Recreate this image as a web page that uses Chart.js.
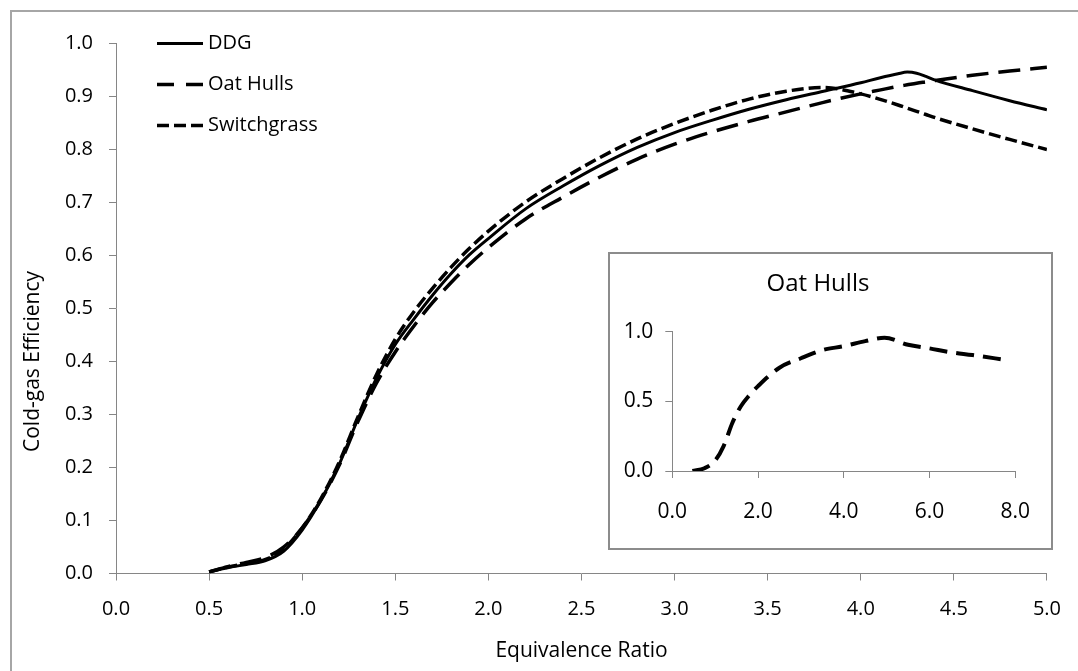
<!DOCTYPE html>
<html>
<head>
<meta charset="utf-8">
<title>Cold-gas efficiency vs equivalence ratio</title>
<script src="https://cdn.jsdelivr.net/npm/chart.js@4/dist/chart.umd.min.js"></script>
<style>
  html, body { margin: 0; padding: 0; background: #fff; }
  #stage { position: relative; width: 1078px; height: 671px; overflow: hidden; background: #fff; }
  #frame {
    position: absolute; left: 10px; top: 10px; right: -10px; bottom: -10px;
    border-left: 2px solid #a6a6a6; border-top: 2px solid #a6a6a6;
  }
  #main { position: absolute; left: 0; top: 0; }
  #insetBox {
    position: absolute; left: 608px; top: 252px; width: 445px; height: 298px;
    box-sizing: border-box; border: 2px solid #8c8c8c; background: #fff;
  }
  #inset { display: block; }
</style>
</head>
<body>
<div id="stage">
  <div id="frame"></div>
  <canvas id="main" width="1078" height="671"></canvas>
  <div id="insetBox"><canvas id="inset" width="441" height="294"></canvas></div>
</div>
<script>
// equivalence ratio grid shared by the three fuels
const PHI = [0.5, 0.6, 0.7, 0.8, 0.9, 1.0, 1.1, 1.2, 1.3, 1.4, 1.5, 1.6, 1.7, 1.8, 1.9, 2.0,
  2.2, 2.4, 2.6, 2.8, 3.0, 3.2, 3.4, 3.6, 3.8, 4.0, 4.1, 4.2, 4.25, 4.3, 4.35, 4.4, 4.6, 4.8, 5.0];

const DDG = [0.003, 0.011, 0.017, 0.024, 0.042, 0.082, 0.138, 0.207, 0.292, 0.369, 0.432, 0.480, 0.525, 0.566, 0.602, 0.632,
  0.688, 0.731, 0.770, 0.804, 0.832, 0.855, 0.876, 0.894, 0.910, 0.926, 0.935, 0.943, 0.946, 0.944, 0.938, 0.931, 0.911, 0.892, 0.875];

const OAT_HULLS = [0.003, 0.013, 0.021, 0.030, 0.050, 0.086, 0.138, 0.205, 0.287, 0.360, 0.418, 0.467, 0.511, 0.549, 0.584, 0.615,
  0.669, 0.710, 0.748, 0.782, 0.810, 0.833, 0.853, 0.871, 0.889, 0.905, 0.912, 0.919, 0.922, 0.925, 0.9275, 0.930, 0.940, 0.948, 0.955];

const SWITCHGRASS = [0.003, 0.012, 0.019, 0.026, 0.046, 0.086, 0.141, 0.211, 0.296, 0.376, 0.442, 0.494, 0.538, 0.578, 0.614, 0.646,
  0.701, 0.745, 0.785, 0.820, 0.849, 0.874, 0.895, 0.910, 0.917, 0.905, 0.895, 0.884, 0.878, 0.872, 0.866, 0.860, 0.839, 0.819, 0.800];

// inset: oat hulls over the wider range
const INSET_PHI = [0.47, 0.75, 1.0, 1.2, 1.4, 1.6, 1.8, 2.0, 2.5, 3.0, 3.5, 4.0, 4.5, 4.95, 5.5, 6.0, 6.5, 7.0, 7.8];
const INSET_OAT_HULLS = [0.0, 0.02, 0.075, 0.18, 0.345, 0.465, 0.545, 0.61, 0.742, 0.81, 0.868, 0.897, 0.933, 0.957, 0.907, 0.881, 0.853, 0.833, 0.797];

const AXIS_GREY = '#868686';
const FONT_FAMILY = "'Open Sans', sans-serif";

Chart.defaults.font.family = FONT_FAMILY;
Chart.defaults.color = '#000';

function toPoints(xs, ys) {
  return xs.map((x, i) => ({ x, y: ys[i] }));
}

function fixedLabel(value) {
  return Number(value).toFixed(1);
}

function axis(min, max, step, tickPadding, fontSize, extra) {
  return Object.assign({
    type: 'linear',
    min,
    max,
    grid: { drawOnChartArea: false, drawTicks: true, tickLength: 7, color: AXIS_GREY, lineWidth: 1 },
    border: { color: AXIS_GREY, width: 1 },
    ticks: {
      stepSize: step,
      padding: tickPadding,
      autoSkip: false,
      maxRotation: 0,
      font: { size: fontSize },
      callback: fixedLabel,
    },
  }, extra);
}

// legend drawn inside the plot, line samples keep each dataset's dash
const lineLegend = {
  id: 'lineLegend',
  afterDraw(chart) {
    const { ctx, chartArea } = chart;
    const sampleLeft = chartArea.left + 41;
    const sampleWidth = 46;

    ctx.save();
    ctx.font = `20px ${FONT_FAMILY}`;
    ctx.textBaseline = 'middle';
    ctx.fillStyle = '#000';

    chart.data.datasets.forEach((dataset, index) => {
      const y = chartArea.top + index * 41;
      ctx.beginPath();
      ctx.strokeStyle = dataset.borderColor;
      ctx.lineWidth = dataset.borderWidth;
      ctx.setLineDash(dataset.legendDash || []);
      ctx.moveTo(sampleLeft, y);
      ctx.lineTo(sampleLeft + sampleWidth, y);
      ctx.stroke();
      ctx.fillText(dataset.label, sampleLeft + sampleWidth + 5, y);
    });

    ctx.restore();
  },
};

// the value-axis title sits lower than the axis middle in the original
const yAxisTitle = {
  id: 'yAxisTitle',
  afterDraw(chart, args, opts) {
    const { ctx, scales } = chart;
    ctx.save();
    ctx.translate(opts.x, scales.y.getPixelForValue(opts.level));
    ctx.rotate(-Math.PI / 2);
    ctx.font = `${opts.size}px ${FONT_FAMILY}`;
    ctx.textAlign = 'center';
    ctx.textBaseline = 'middle';
    ctx.fillStyle = '#000';
    ctx.fillText(opts.text, 0, 0);
    ctx.restore();
  },
};

new Chart(document.getElementById('main'), {
  type: 'line',
  data: {
    datasets: [
      {
        label: 'DDG',
        data: toPoints(PHI, DDG),
        borderColor: '#000',
        borderWidth: 3,
        borderDash: [],
        legendDash: [],
      },
      {
        label: 'Oat Hulls',
        data: toPoints(PHI, OAT_HULLS),
        borderColor: '#000',
        borderWidth: 3.5,
        borderDash: [22, 10],
        legendDash: [17, 12],
      },
      {
        label: 'Switchgrass',
        data: toPoints(PHI, SWITCHGRASS),
        borderColor: '#000',
        borderWidth: 3.5,
        borderDash: [12, 5],
        legendDash: [12, 5],
      },
    ],
  },
  options: {
    responsive: false,
    animation: false,
    devicePixelRatio: 1,
    layout: { padding: { left: 12, top: 43.5, right: 28, bottom: 0 } },
    elements: {
      point: { radius: 0 },
      line: { cubicInterpolationMode: 'monotone', borderCapStyle: 'butt', fill: false },
    },
    plugins: {
      legend: { display: false },
      tooltip: { enabled: false },
      yAxisTitle: { text: 'Cold-gas Efficiency', x: 33, level: 0.4, size: 21 },
    },
    scales: {
      x: axis(0, 5, 0.5, 17, 20, {
        title: { display: true, text: 'Equivalence Ratio', font: { size: 21 }, padding: { top: 0, bottom: 7 } },
        afterFit(scale) {
          scale.height = 97.5;
        },
      }),
      y: axis(0, 1, 0.1, 16, 20, {
        afterFit(scale) {
          scale.width = 104;
        },
      }),
    },
  },
  plugins: [lineLegend, yAxisTitle],
});

new Chart(document.getElementById('inset'), {
  type: 'line',
  data: {
    datasets: [
      {
        label: 'Oat Hulls',
        data: toPoints(INSET_PHI, INSET_OAT_HULLS),
        borderColor: '#000',
        borderWidth: 4,
        borderDash: [18, 9],
      },
    ],
  },
  options: {
    responsive: false,
    animation: false,
    devicePixelRatio: 1,
    layout: { padding: { left: 0, top: 0, right: 25, bottom: 0 } },
    elements: {
      point: { radius: 0 },
      line: { cubicInterpolationMode: 'monotone', borderCapStyle: 'butt', fill: false },
    },
    plugins: {
      legend: { display: false },
      tooltip: { enabled: false },
      title: {
        display: true,
        text: 'Oat Hulls',
        color: '#000',
        font: { size: 24, weight: 'normal' },
        padding: { top: 16, bottom: 33 },
      },
    },
    scales: {
      x: axis(0, 8, 2, 21, 21, {
        afterFit(scale) {
          scale.height = 77;
        },
      }),
      y: axis(0, 1, 0.5, 12, 21, {
        afterFit(scale) {
          scale.width = 62.3;
        },
      }),
    },
  },
});
</script>
</body>
</html>
